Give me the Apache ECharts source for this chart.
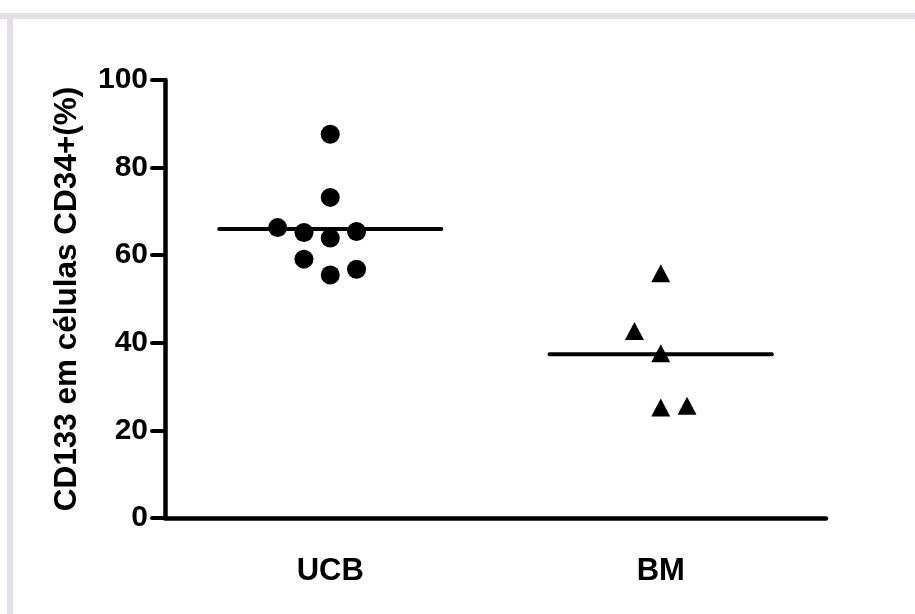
<!DOCTYPE html>
<html>
<head>
<meta charset="utf-8">
<script src="https://cdn.jsdelivr.net/npm/echarts@6/dist/echarts.min.js"></script>
<style>
html,body{margin:0;padding:0;background:#fff;}
#chart{width:915px;height:614px;}
</style>
</head>
<body>
<div id="chart"></div>
<script>
const categories = ['UCB', 'BM'];
const ucbValues = [87.6, 73.2, 66.3, 65.2, 63.9, 65.4, 59.1, 55.5, 56.8];
const ucbColumn = [0, 0, -2, -1, 0, 1, -1, 0, 1];
const bmValues = [55.9, 42.7, 37.6, 25.2, 25.6];
const bmColumn = [0, -1, 0, 0, 1];
const medians = [66.0, 37.4];
const yTicks = [0, 20, 40, 60, 80, 100];
const yTitle = 'CD133 em células CD34+(%)';

const FONT = "'Liberation Sans', Arial, Helvetica, sans-serif";
const COL_STEP = 26.3;

const chart = echarts.init(document.getElementById('chart'), null, {renderer: 'canvas'});

function pts(values, cols, cat) {
  return values.map((v, i) => ({value: [cat, v], symbolOffset: [cols[i] * COL_STEP, 0]}));
}

chart.setOption({
  animation: false,
  backgroundColor: '#ffffff',
  graphic: [
    {type: 'rect', shape: {x: 0, y: 13, width: 915, height: 6}, style: {fill: '#e4dee9'}, silent: true},
    {type: 'rect', shape: {x: 7, y: 13, width: 6, height: 601}, style: {fill: '#e4dee9'}, silent: true}
  ],
  grid: {left: 165, right: 89, top: 80, bottom: 96, containLabel: false},
  xAxis: {
    type: 'category',
    data: categories,
    boundaryGap: true,
    axisLine: {lineStyle: {color: '#000', width: 4.5, cap: 'round'}},
    axisTick: {alignWithLabel: true, length: 12, lineStyle: {color: '#000', width: 4, cap: 'round'}},
    axisLabel: {color: '#000', fontFamily: FONT, fontWeight: 'bold', fontSize: 31, margin: 38},
    splitLine: {show: false}
  },
  yAxis: {
    type: 'value',
    min: yTicks[0],
    max: yTicks[yTicks.length - 1],
    interval: yTicks[1] - yTicks[0],
    name: yTitle,
    nameLocation: 'middle',
    nameRotate: 90,
    nameGap: 82,
    nameTextStyle: {color: '#000', fontFamily: FONT, fontWeight: 'bold', fontSize: 31.5},
    axisLine: {show: true, lineStyle: {color: '#000', width: 4.5, cap: 'round'}},
    axisTick: {show: true, length: 13, lineStyle: {color: '#000', width: 4, cap: 'round'}},
    axisLabel: {color: '#000', fontFamily: FONT, fontWeight: 'bold', fontSize: 30, margin: 17},
    splitLine: {show: false}
  },
  series: [
    {
      type: 'custom',
      data: medians.map((m, i) => [i, m]),
      renderItem: function (params, api) {
        const c = api.coord([api.value(0), api.value(1)]);
        const bw = api.size([1, 0])[0];
        return {
          type: 'line',
          shape: {x1: c[0] - bw * 0.336, y1: c[1], x2: c[0] + bw * 0.336, y2: c[1]},
          style: {stroke: '#000', lineWidth: 4, lineCap: 'round'}
        };
      },
      z: 1
    },
    {
      type: 'scatter',
      data: pts(ucbValues, ucbColumn, 0),
      symbol: 'circle',
      symbolSize: 19,
      itemStyle: {color: '#000', opacity: 1},
      z: 2
    },
    {
      type: 'scatter',
      data: pts(bmValues, bmColumn, 1),
      symbol: 'triangle',
      symbolSize: [19, 18],
      itemStyle: {color: '#000', opacity: 1},
      z: 2
    }
  ]
});
</script>
</body>
</html>
